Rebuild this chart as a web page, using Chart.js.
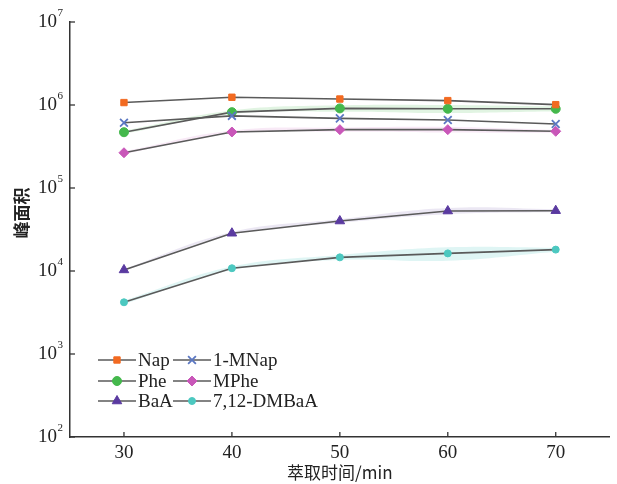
<!DOCTYPE html>
<html>
<head>
<meta charset="utf-8">
<script src="https://cdn.jsdelivr.net/npm/chart.js@4/dist/chart.umd.min.js"></script>
<style>
html,body{margin:0;padding:0;background:#fff;}
#wrap{width:617px;height:484px;}
</style>
</head>
<body>
<div id="wrap"><canvas id="chart" width="617" height="484"></canvas></div>
<script>
// data
const times = [30, 40, 50, 60, 70];
const xTicks = [30, 40, 50, 60, 70];
const yTicks = [1e2, 1e3, 1e4, 1e5, 1e6, 1e7];
const yTickExp = ['2', '3', '4', '5', '6', '7'];

const nap   = [1.07e6, 1.24e6, 1.18e6, 1.13e6, 1.01e6];
const mnap  = [6.1e5, 7.4e5, 6.9e5, 6.6e5, 5.9e5];
const phe   = [4.7e5, 8.2e5, 9.1e5, 9.0e5, 9.0e5];
const mphe  = [2.66e5, 4.73e5, 5.05e5, 5.05e5, 4.82e5];
const baa   = [1.03e4, 2.85e4, 4.0e4, 5.28e4, 5.33e4];
const dmbaa = [4.2e3, 1.08e4, 1.46e4, 1.63e4, 1.81e4];

// faint spread bands
const pheSd   = [0.2e5, 0.4e5, 0.8e5, 1.0e5, 0.6e5];
const mpheSd  = [0.1e5, 0.2e5, 0.3e5, 0.4e5, 0.2e5];
const baaSd   = [0.03e4, 0.1e4, 0.2e4, 0.45e4, 0.2e4];
const dmbaaSd = [0.02e4, 0.05e4, 0.1e4, 0.3e4, 0.1e4];

const LINE = '#5a5a5a';
const serif = 'Liberation Serif';

const series = [
  {label:'Nap', data:nap, color:'#f26a21', style:'rect', r:4.5},
  {label:'1-MNap', data:mnap, color:'#5b77c2', style:'crossRot', r:5.5},
  {label:'Phe', data:phe, color:'#44b84c', style:'circle', r:4.5},
  {label:'MPhe', data:mphe, color:'#c957b9', style:'rectRot', r:5},
  {label:'BaA', data:baa, color:'#5a3aa0', style:'triangle', r:5.5},
  {label:'7,12-DMBaA', data:dmbaa, color:'#4cc8c0', style:'circle', r:3.5}
];

const bands = [
  {data:phe, sd:pheSd, color:'rgba(68,184,76,0.16)'},
  {data:mphe, sd:mpheSd, color:'rgba(201,87,185,0.13)'},
  {data:baa, sd:baaSd, color:'rgba(90,58,160,0.12)'},
  {data:dmbaa, sd:dmbaaSd, color:'rgba(76,200,192,0.18)'}
];

const pts = arr => times.map((t, i) => ({x:t, y:arr[i]}));

const datasets = [];
bands.forEach(b => {
  datasets.push({
    data: pts(b.data.map((v, i) => v + b.sd[i])),
    borderWidth:0, pointRadius:0, tension:0.4, fill:'+1',
    backgroundColor:b.color, order:10
  });
  datasets.push({
    data: pts(b.data.map((v, i) => v - b.sd[i])),
    borderWidth:0, pointRadius:0, tension:0.4, fill:false, order:10
  });
});
series.forEach(s => {
  datasets.push({
    label:s.label,
    data:pts(s.data),
    borderColor:LINE,
    borderWidth:1.6,
    pointStyle:s.style,
    pointRadius:s.r,
    pointBackgroundColor:s.color,
    pointBorderColor:s.color,
    pointBorderWidth:s.style === 'crossRot' ? 1.8 : 1,
    fill:false,
    order:1
  });
});

const extras = {
  id:'extras',
  afterDraw(chart) {
    const ctx = chart.ctx;
    const x = chart.scales.x, y = chart.scales.y;
    const a = chart.chartArea;
    ctx.save();
    ctx.strokeStyle = '#333';
    ctx.lineWidth = 1.3;
    ctx.fillStyle = '#222';
    ctx.textBaseline = 'middle';
    yTicks.forEach((v, i) => {
      const p = y.getPixelForValue(v);
      ctx.beginPath(); ctx.moveTo(a.left, p); ctx.lineTo(a.left + 5, p); ctx.stroke();
      // power-of-ten label with raised exponent
      ctx.textAlign = 'right';
      ctx.font = '11px "' + serif + '"';
      ctx.fillText(yTickExp[i], 63, p - 9);
      ctx.font = '19px "' + serif + '"';
      ctx.fillText('10', 57, p);
    });
    xTicks.forEach(v => {
      const p = x.getPixelForValue(v);
      ctx.beginPath(); ctx.moveTo(p, a.bottom); ctx.lineTo(p, a.bottom - 5); ctx.stroke();
    });

    // y title
    ctx.font = 'bold 17px "Noto Sans CJK SC"';
    ctx.textAlign = 'center';
    ctx.translate(22, 213);
    ctx.rotate(-Math.PI / 2);
    ctx.fillText('峰面积', 0, 0);
    ctx.setTransform(1, 0, 0, 1, 0, 0);

    // legend, two columns inside the plot
    const cols = [a.left + 28, a.left + 103];
    const rows = [360, 381, 401];
    ctx.font = '19px "' + serif + '"';
    ctx.textAlign = 'left';
    series.forEach((s, i) => {
      const cx = cols[i % 2], cy = rows[Math.floor(i / 2)];
      ctx.strokeStyle = LINE;
      ctx.lineWidth = 1.6;
      ctx.beginPath(); ctx.moveTo(cx, cy); ctx.lineTo(cx + 38, cy); ctx.stroke();
      ctx.fillStyle = s.color;
      ctx.strokeStyle = s.color;
      const bw = s.style === 'crossRot' ? 1.8 : 1;
      ctx.lineWidth = bw;
      Chart.helpers.drawPoint(ctx, {pointStyle:s.style, radius:s.r, rotation:0, borderWidth:bw}, cx + 19, cy);
      ctx.fillStyle = '#222';
      ctx.fillText(s.label, cx + 40, cy + 1);
    });
    ctx.restore();
  }
};

new Chart(document.getElementById('chart'), {
  type:'line',
  data:{datasets:datasets},
  options:{
    responsive:false,
    animation:false,
    layout:{padding:{top:22, right:3, left:0, bottom:0}},
    plugins:{legend:{display:false}, tooltip:{enabled:false}},
    scales:{
      x:{
        type:'linear', min:25, max:75,
        afterBuildTicks: s => { s.ticks = xTicks.map(v => ({value:v})); },
        afterFit: s => { s.height = 47; },
        grid:{display:true, drawOnChartArea:false, drawTicks:false},
        border:{display:true, color:'#333', width:1.5},
        ticks:{color:'#222', padding:5, font:{family:serif, size:19}},
        title:{display:true, text:'萃取时间/min', color:'#222',
          font:{family:'"Noto Sans CJK SC"', size:17}, padding:{top:0, bottom:1}}
      },
      y:{
        type:'logarithmic', min:1e2, max:1e7,
        afterBuildTicks: s => { s.ticks = yTicks.map(v => ({value:v})); },
        afterFit: s => { s.width = 70; },
        grid:{display:true, drawOnChartArea:false, drawTicks:false},
        border:{display:true, color:'#333', width:1.5},
        ticks:{display:false}
      }
    }
  },
  plugins:[extras]
});
</script>
</body>
</html>
